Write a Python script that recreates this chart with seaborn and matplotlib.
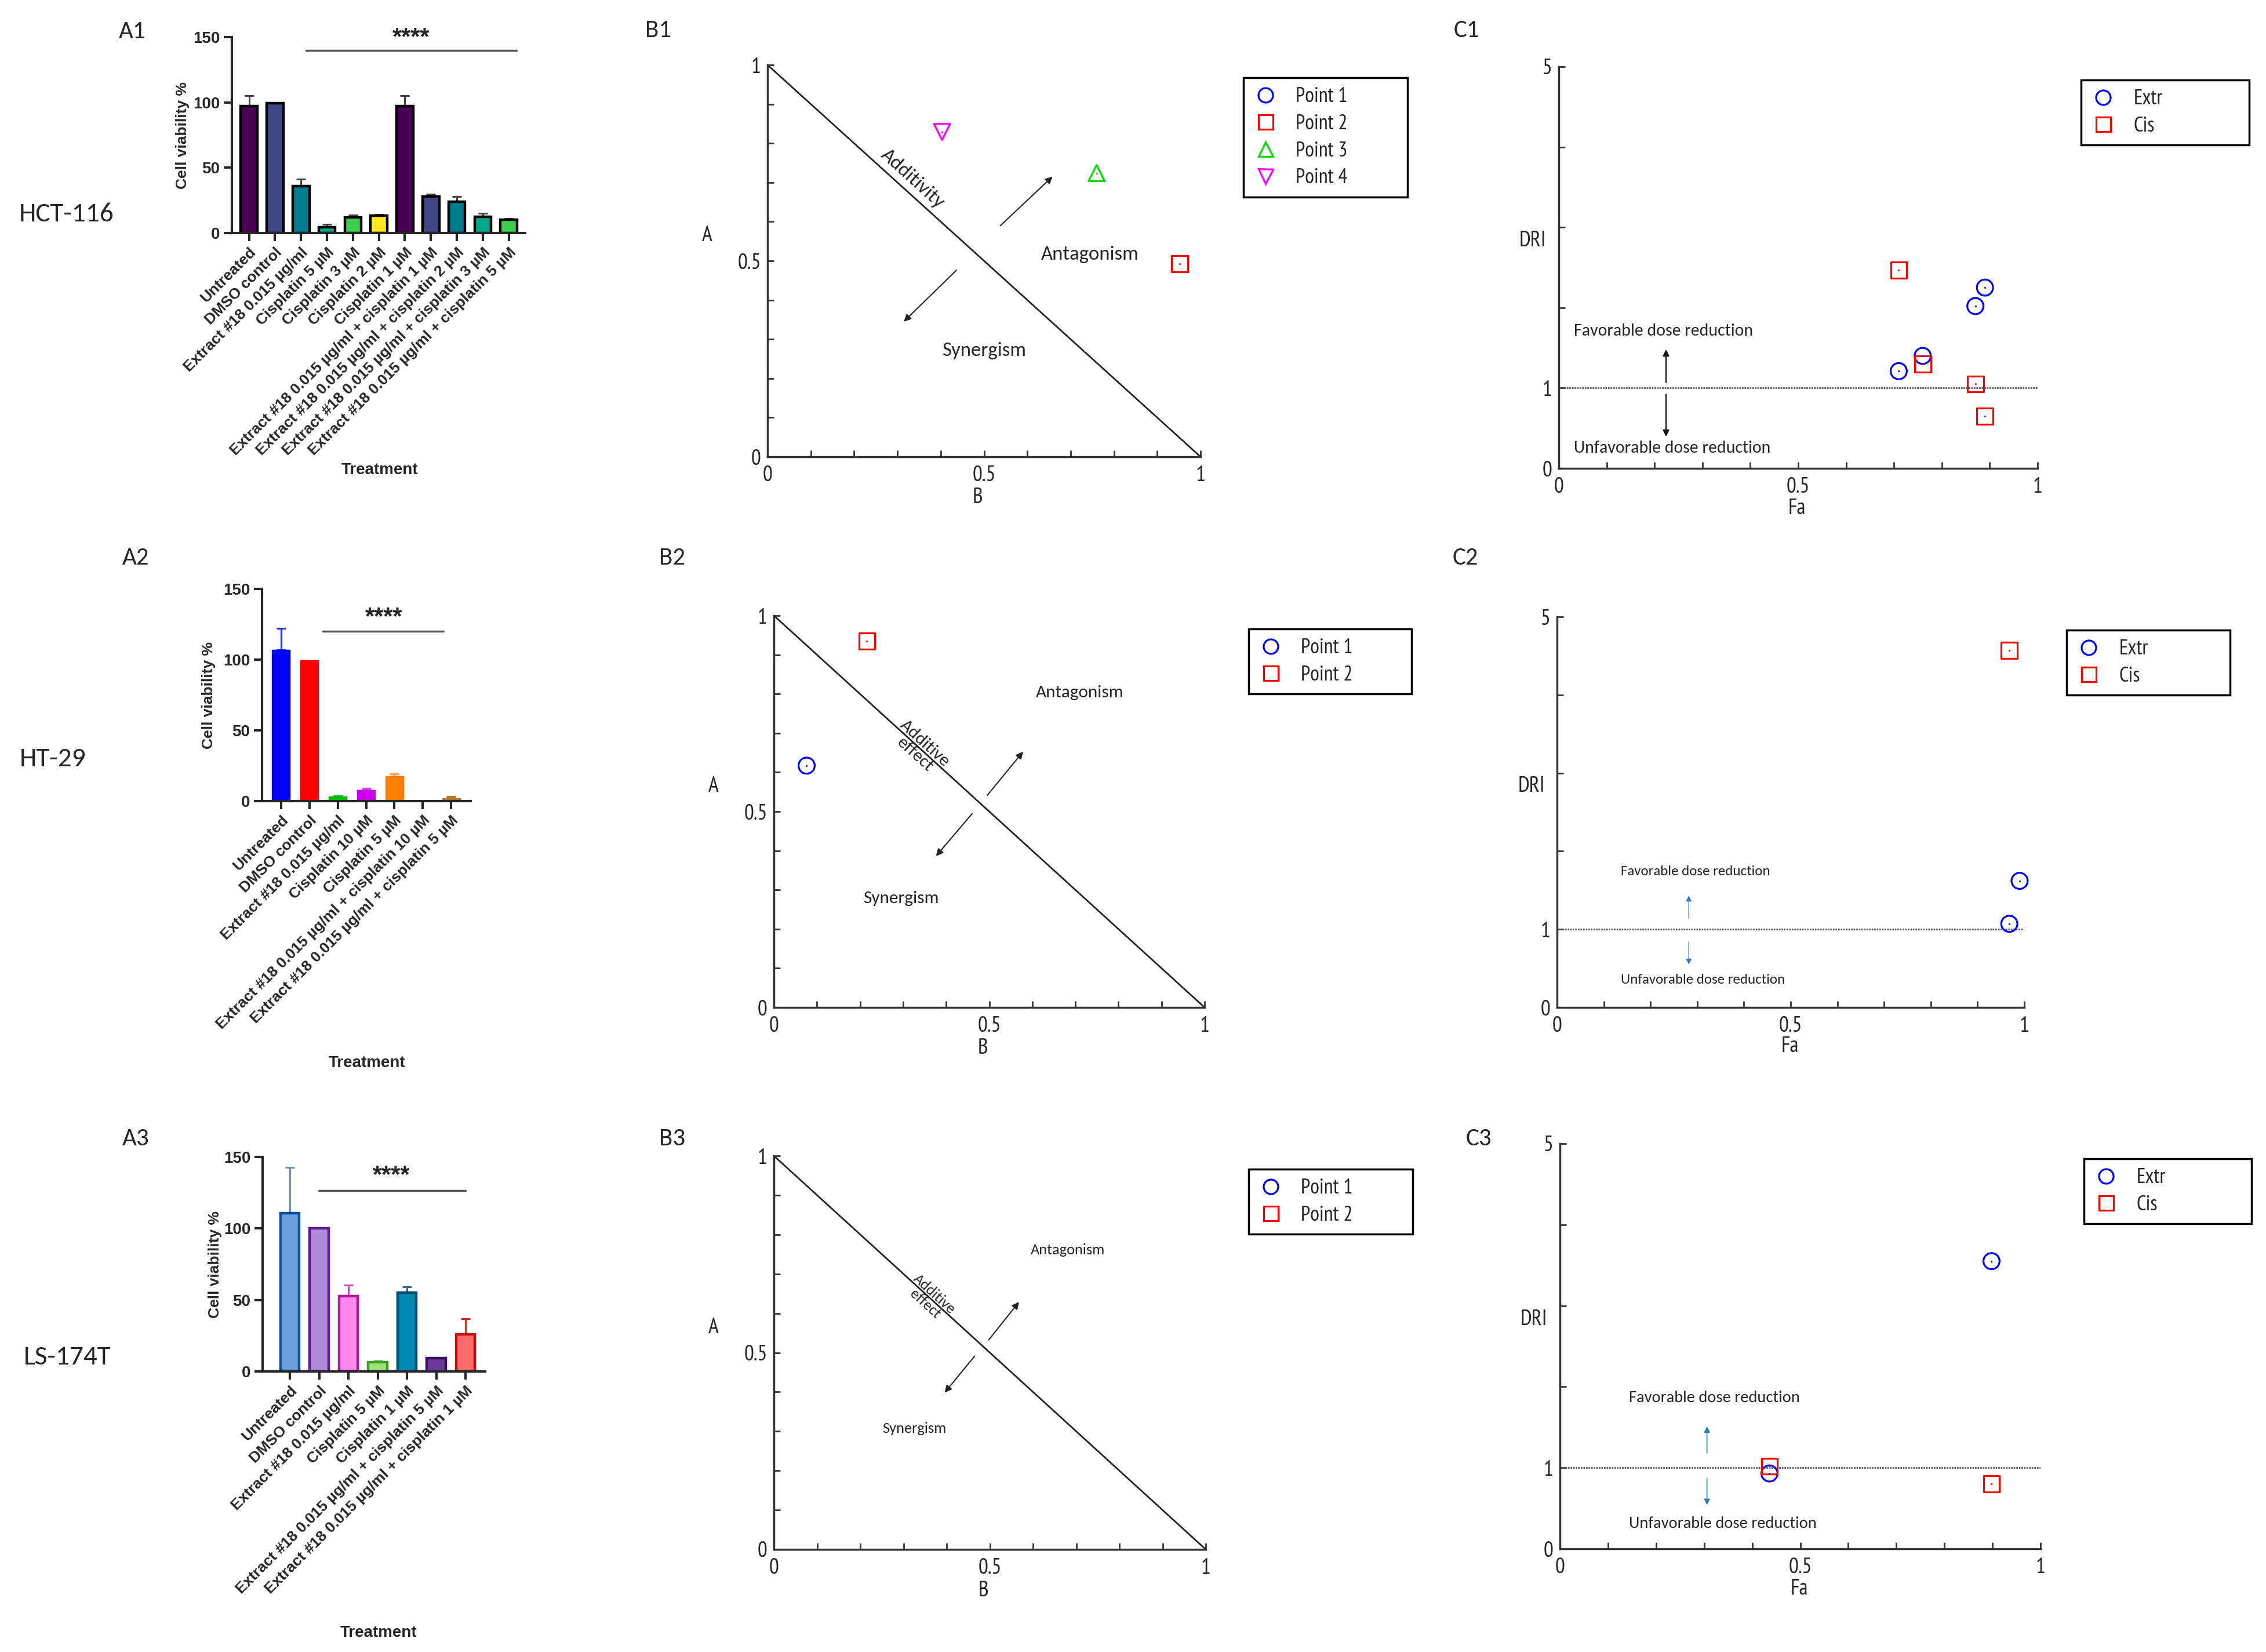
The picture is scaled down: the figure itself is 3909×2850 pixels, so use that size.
import numpy as np
import pandas as pd
import matplotlib.pyplot as plt
import seaborn as sns
from matplotlib.lines import Line2D
from matplotlib.ticker import MultipleLocator

sns.set_style('ticks')
plt.rcParams['font.family'] = ['Liberation Sans', 'DejaVu Sans']

NARROW = ['Arial Narrow', 'PT Sans Narrow', 'Roboto Condensed', 'Archivo Narrow', 'DejaVu Sans']
CALIB = ['Carlito', 'Lato', 'DejaVu Sans']

# ---------------- A panels: cell viability (mean, upper SD) ----------------
a1_labels = ['Untreated', 'DMSO control', 'Extract #18 0.015 µg/ml', 'Cisplatin 5 µM',
             'Cisplatin 3 µM', 'Cisplatin 2 µM', 'Cisplatin 1 µM',
             'Extract #18 0.015 µg/ml + cisplatin 1 µM', 'Extract #18 0.015 µg/ml + cisplatin 2 µM',
             'Extract #18 0.015 µg/ml + cisplatin 3 µM', 'Extract #18 0.015 µg/ml + cisplatin 5 µM']
a1_mean = [97.4, 99.5, 36.1, 4.6, 11.9, 13.3, 97.4, 28.1, 24.0, 12.4, 10.2]
a1_sd = [7.8, 0, 5.3, 1.9, 1.9, 1.0, 7.8, 1.5, 4.1, 2.6, 0.9]

a2_labels = ['Untreated', 'DMSO control', 'Extract #18 0.015 µg/ml', 'Cisplatin 10 µM',
             'Cisplatin 5 µM', 'Extract #18 0.015 µg/ml + cisplatin 10 µM',
             'Extract #18 0.015 µg/ml + cisplatin 5 µM']
a2_mean = [107.1, 99.5, 3.1, 7.6, 17.8, 0.3, 2.1]
a2_sd = [15.0, 0, 0.7, 1.4, 1.4, 0, 1.0]

a3_labels = ['Untreated', 'DMSO control', 'Extract #18 0.015 µg/ml', 'Cisplatin 5 µM',
             'Cisplatin 1 µM', 'Extract #18 0.015 µg/ml + cisplatin 5 µM',
             'Extract #18 0.015 µg/ml + cisplatin 1 µM']
a3_mean = [110.8, 100.0, 52.7, 6.4, 55.2, 9.4, 26.1]
a3_sd = [32.1, 0, 7.6, 1.0, 3.9, 0.2, 10.8]

# ---------------- B panels: isobolograms ----------------
b1_names = ['Point 1', 'Point 2', 'Point 3', 'Point 4']
b1_b = [np.nan, 0.952, 0.760, 0.403]
b1_a = [np.nan, 0.493, 0.724, 0.829]
b2_names = ['Point 1', 'Point 2']
b2_b = [0.076, 0.216]
b2_a = [0.617, 0.935]
b3_names = ['Point 1', 'Point 2']
b3_b = [np.nan, np.nan]
b3_a = [np.nan, np.nan]
add_line_b = [0, 1]
add_line_a = [1, 0]

# ---------------- C panels: Fa-DRI plots ----------------
c1_extr_fa = [0.71, 0.76, 0.87, 0.89]
c1_extr_dri = [1.21, 1.40, 2.02, 2.25]
c1_cis_fa = [0.71, 0.76, 0.87, 0.89]
c1_cis_dri = [2.47, 1.30, 1.05, 0.65]
c2_extr_fa = [0.968, 0.99]
c2_extr_dri = [1.07, 1.62]
c2_cis_fa = [0.968]
c2_cis_dri = [4.57]
c3_extr_fa = [0.436, 0.898]
c3_extr_dri = [0.93, 3.55]
c3_cis_fa = [0.436, 0.898]
c3_cis_dri = [1.02, 0.80]
dri_ref = 1

W, H = 3909, 2850
fig = plt.figure(figsize=(W / 100, H / 100), dpi=100)


def px_rect(left, top, right, bottom):
    return [left / W, 1 - bottom / H, (right - left) / W, (bottom - top) / H]


def bar_panel(rect, labels, mean, sd, face, edge, errc, edge_lw, xlim, sig, ylab_x, xlab_xy):
    ax = fig.add_axes(rect)
    df = pd.DataFrame({'treatment': labels, 'viability': mean})
    sns.barplot(data=df, x='treatment', y='viability', hue='treatment', palette=face,
                legend=False, width=0.64, saturation=1, ax=ax)
    for p, ec in zip(ax.patches, edge):
        p.set_edgecolor(ec)
        p.set_linewidth(edge_lw)
    for i, (m, s, c) in enumerate(zip(mean, sd, errc)):
        if s > 0:
            ax.errorbar(i, m, yerr=[[0], [s]], fmt='none', ecolor=c, elinewidth=2.2,
                        capsize=6, capthick=2.2, zorder=0.5)
    ax.set_ylim(0, 150)
    ax.set_yticks([0, 50, 100, 150])
    ax.set_xlim(*xlim)
    ax.set_xticks(range(len(labels)))
    ax.set_xticklabels(labels, rotation=45, ha='right', rotation_mode='anchor',
                       fontsize=19, fontweight='bold')
    for t in ax.get_yticklabels():
        t.set_fontsize(20)
        t.set_fontweight('bold')
    ax.tick_params(axis='both', width=3, length=10, direction='out', pad=5)
    sns.despine(ax=ax)
    for s in ['left', 'bottom']:
        ax.spines[s].set_linewidth(3)
    ax.set_ylabel('Cell viability %', fontsize=19, fontweight='bold')
    ax.yaxis.set_label_coords(ylab_x, 0.5)
    ax.set_xlabel('Treatment', fontsize=20, fontweight='bold', va='top')
    ax.xaxis.set_label_coords(*xlab_xy)
    (x0, x1, ly), (sx, sy) = sig
    ax.plot([x0, x1], [ly, ly], color='#555555', lw=2.5, clip_on=False)
    ax.text(sx, sy, '****', ha='center', va='center', fontsize=30, fontweight='bold')
    return ax


def narrow_ticks(ax):
    for t in ax.get_xticklabels() + ax.get_yticklabels():
        t.set_fontfamily(NARROW)
        t.set_fontsize(27)


def frame_axes(ax):
    sns.despine(ax=ax)
    for s in ['left', 'bottom']:
        ax.spines[s].set_linewidth(2.5)
        ax.spines[s].set_color('#333333')
    ax.tick_params(which='both', direction='in', length=8, width=2, color='#333333')
    ax.tick_params(axis='x', which='both', pad=11)
    ax.tick_params(axis='y', which='both', pad=8)


def add_legend(ax, handles, names, box):
    left, top, right, bottom = box
    leg = ax.legend(handles, names, loc='upper left', mode='expand',
                    bbox_to_anchor=(left / W, 1 - bottom / H, (right - left) / W, (bottom - top) / H),
                    bbox_transform=fig.transFigure, borderaxespad=0, fancybox=False,
                    framealpha=1, edgecolor='black', borderpad=0.45, labelspacing=0.38,
                    handlelength=1.2, handletextpad=0.85, prop={'family': NARROW, 'size': 26})
    leg.get_frame().set_linewidth(2.5)


def open_points(ax, xs, ys, marker, color, size=20):
    xs = np.asarray(xs, float)
    ys = np.asarray(ys, float)
    ok = np.isfinite(xs) & np.isfinite(ys)
    if ok.any():
        sns.scatterplot(x=xs[ok], y=ys[ok], marker=marker, s=size ** 2, facecolors='none',
                        edgecolor=color, linewidth=2.3, ax=ax, legend=False, clip_on=False, zorder=4)
        sns.scatterplot(x=xs[ok], y=ys[ok], marker='o', s=5, color=color, linewidth=0,
                        ax=ax, legend=False, clip_on=False, zorder=5)


def iso_panel(rect, names, bx, ay, box, notes):
    ax = fig.add_axes(rect)
    ax.plot(add_line_b, add_line_a, color='#222222', lw=2)
    styles = [('o', 'blue'), ('s', 'red'), ('^', '#00dd00'), ('v', 'magenta')]
    handles = []
    for i, name in enumerate(names):
        m, c = styles[i]
        open_points(ax, [bx[i]], [ay[i]], m, c)
        handles.append(Line2D([], [], ls='none', marker=m, ms=18, mfc='none', mec=c, mew=2.3))
    ax.set_xlim(0, 1)
    ax.set_ylim(0, 1)
    ax.set_xticks([0, 0.5, 1])
    ax.set_xticklabels(['0', '0.5', '1'])
    ax.set_yticks([0, 0.5, 1])
    ax.set_yticklabels(['0', '0.5', '1'])
    ax.xaxis.set_minor_locator(MultipleLocator(0.1))
    ax.yaxis.set_minor_locator(MultipleLocator(0.1))
    frame_axes(ax)
    narrow_ticks(ax)
    ax.set_xlabel('B', fontfamily=NARROW, fontsize=27, va='center')
    ax.xaxis.set_label_coords(0.485, -0.105)
    ax.set_ylabel('A', fontfamily=NARROW, fontsize=27, rotation=0, ha='center', va='center')
    ax.yaxis.set_label_coords(-0.14, 0.564)
    add_legend(ax, handles, names, box)
    size = notes['size']
    ax.text(*notes['add_xy'], notes['add_txt'], fontfamily=CALIB, fontsize=size, ha='center',
            va='center', rotation=-45, rotation_mode='anchor', transform_rotates_text=True,
            linespacing=1.0)
    ax.text(*notes['ant_xy'], 'Antagonism', fontfamily=CALIB, fontsize=size, ha='center', va='center')
    ax.text(*notes['syn_xy'], 'Synergism', fontfamily=CALIB, fontsize=size, ha='center', va='center')
    for start, end in notes['arrows']:
        ax.annotate('', xy=end, xytext=start,
                    arrowprops=dict(arrowstyle='-|>', color='#222222', lw=1.5, mutation_scale=18))
    return ax


def dri_panel(rect, extr, cis, box, notes):
    ax = fig.add_axes(rect)
    ax.axhline(dri_ref, color='#555555', lw=2, ls=(0, (1, 0.6)), zorder=1)
    open_points(ax, extr[0], extr[1], 'o', 'blue')
    open_points(ax, cis[0], cis[1], 's', 'red')
    handles = [Line2D([], [], ls='none', marker='o', ms=18, mfc='none', mec='blue', mew=2.3),
               Line2D([], [], ls='none', marker='s', ms=18, mfc='none', mec='red', mew=2.3)]
    ax.set_xlim(0, 1)
    ax.set_ylim(0, 5)
    ax.set_xticks([0, 0.5, 1])
    ax.set_xticklabels(['0', '0.5', '1'])
    ax.xaxis.set_minor_locator(MultipleLocator(0.1))
    ax.set_yticks([0, 1, 2, 3, 4, 5])
    ax.set_yticklabels(['0', '1', '', '', '', '5'])
    frame_axes(ax)
    narrow_ticks(ax)
    ax.set_xlabel('Fa', fontfamily=NARROW, fontsize=27, va='center')
    ax.xaxis.set_label_coords(0.498, -0.10)
    ax.set_ylabel('DRI', fontfamily=NARROW, fontsize=27, rotation=0, ha='center', va='center')
    ax.yaxis.set_label_coords(-0.055, 0.566)
    add_legend(ax, handles, ['Extr', 'Cis'], box)
    size = notes['size']
    ax.text(*notes['fav_xy'], 'Favorable dose reduction', fontfamily=CALIB, fontsize=size,
            ha='left', va='center')
    ax.text(*notes['unf_xy'], 'Unfavorable dose reduction', fontfamily=CALIB, fontsize=size,
            ha='left', va='center')
    for start, end in notes['arrows']:
        ax.annotate('', xy=end, xytext=start,
                    arrowprops=dict(arrowstyle='-|>', color=notes['color'], lw=notes['lw'],
                                    mutation_scale=notes['ms']))
    return ax


# ---------------- A column ----------------
a1_face = ['#4b0055', '#3f4788', '#007b8f', '#00a98a', '#3ccf4a', '#fde725',
           '#4b0055', '#3f4788', '#007b8f', '#00a98a', '#3ccf4a']
bar_panel(px_rect(400, 64, 906, 402), a1_labels, a1_mean, a1_sd, a1_face,
          ['black'] * 11, ['#444444'] * 11, 3.2, (-0.66, 10.63),
          ((2.19, 10.29, 139.8), (6.23, 149.5)), -0.145, (0.504, -1.172))

a2_face = ['#0000ff', '#ff0000', '#00bb00', '#cc00ee', '#ff8000', '#999999', '#b0762a']
bar_panel(px_rect(452, 1016, 812, 1382), a2_labels, a2_mean, a2_sd, a2_face,
          a2_face, ['#2233dd', '#ff0000', '#00bb00', '#cc44ee', '#ffa040', '#999999', '#b0762a'],
          1, (-0.67, 6.69), ((1.47, 5.73, 119.9), (3.62, 129.9)), -0.222, (0.503, -1.2))

a3_face = ['#6a9fd8', '#b08ad8', '#ff88ee', '#a3e07a', '#0088b0', '#6a3a9a', '#ff6a6a']
a3_edge = ['#0d4fa0', '#5a1a9a', '#b0189a', '#3aa020', '#004a6a', '#3a1060', '#c01010']
a3_err = ['#6a8fc0', '#5a1a9a', '#c04aa8', '#3aa020', '#3a6a8a', '#3a1060', '#c83030']
bar_panel(px_rect(453, 1996, 837, 2366), a3_labels, a3_mean, a3_sd, a3_face,
          a3_edge, a3_err, 3.2, (-0.93, 6.67), ((0.98, 6.0, 126.6), (3.47, 137.0)),
          -0.182, (0.521, -1.184))

# ---------------- B column ----------------
iso_panel(px_rect(1324, 112, 2071, 788), b1_names, b1_b, b1_a, (2145, 134, 2428, 338),
          dict(size=25, add_txt='Additivity', add_xy=(0.335, 0.71), ant_xy=(0.745, 0.517),
               syn_xy=(0.50, 0.27),
               arrows=[((0.535, 0.587), (0.661, 0.718)), ((0.439, 0.479), (0.312, 0.342))]))
iso_panel(px_rect(1335, 1062, 2078, 1738), b2_names, b2_b, b2_a, (2154, 1085, 2435, 1199),
          dict(size=22.5, add_txt='Additive\neffect', add_xy=(0.339, 0.66), ant_xy=(0.71, 0.803),
               syn_xy=(0.296, 0.278),
               arrows=[((0.493, 0.538), (0.581, 0.656)), ((0.463, 0.498), (0.374, 0.383))]))
iso_panel(px_rect(1335, 1994, 2080, 2673), b3_names, b3_b, b3_a, (2154, 2017, 2437, 2130),
          dict(size=19, add_txt='Additive\neffect', add_xy=(0.361, 0.637), ant_xy=(0.681, 0.76),
               syn_xy=(0.325, 0.307),
               arrows=[((0.495, 0.529), (0.570, 0.632)), ((0.467, 0.494), (0.393, 0.395))]))

# ---------------- C column ----------------
dri_panel(px_rect(2689, 115, 3515, 808), (c1_extr_fa, c1_extr_dri), (c1_cis_fa, c1_cis_dri),
          (3590, 138, 3880, 254),
          dict(size=21.5, fav_xy=(0.032, 1.71), unf_xy=(0.032, 0.25), color='#111111', lw=1.6, ms=16,
               arrows=[((0.224, 1.05), (0.224, 1.5)), ((0.224, 0.94), (0.224, 0.375))]))
dri_panel(px_rect(2686, 1064, 3492, 1738), (c2_extr_fa, c2_extr_dri), (c2_cis_fa, c2_cis_dri),
          (3565, 1087, 3847, 1201),
          dict(size=18, fav_xy=(0.136, 1.74), unf_xy=(0.136, 0.35), color='#2a78c8', lw=1.0, ms=14,
               arrows=[((0.282, 1.12), (0.282, 1.45)), ((0.282, 0.86), (0.282, 0.53))]))
dri_panel(px_rect(2691, 1973, 3520, 2672), (c3_extr_fa, c3_extr_dri), (c3_cis_fa, c3_cis_dri),
          (3595, 1999, 3884, 2114),
          dict(size=20.5, fav_xy=(0.144, 1.86), unf_xy=(0.144, 0.31), color='#2a78c8', lw=1.2, ms=15,
               arrows=[((0.306, 1.16), (0.306, 1.53)), ((0.306, 0.89), (0.306, 0.52))]))

# ---------------- panel and row labels ----------------
for txt, x, y in [('A1', 228, 55), ('A2', 234, 962), ('A3', 234, 1964),
                  ('B1', 1136, 52), ('B2', 1160, 962), ('B3', 1160, 1964),
                  ('C1', 2530, 52), ('C2', 2528, 962), ('C3', 2551, 1964)]:
    fig.text(x / W, 1 - y / H, txt, fontfamily=CALIB, fontsize=31, ha='center', va='center')
for txt, x, y in [('HCT-116', 115, 370), ('HT-29', 91, 1309), ('LS-174T', 116, 2341)]:
    fig.text(x / W, 1 - y / H, txt, fontfamily=CALIB, fontsize=34, ha='center', va='center')

fig.savefig('out.png', dpi=100, facecolor='white')
